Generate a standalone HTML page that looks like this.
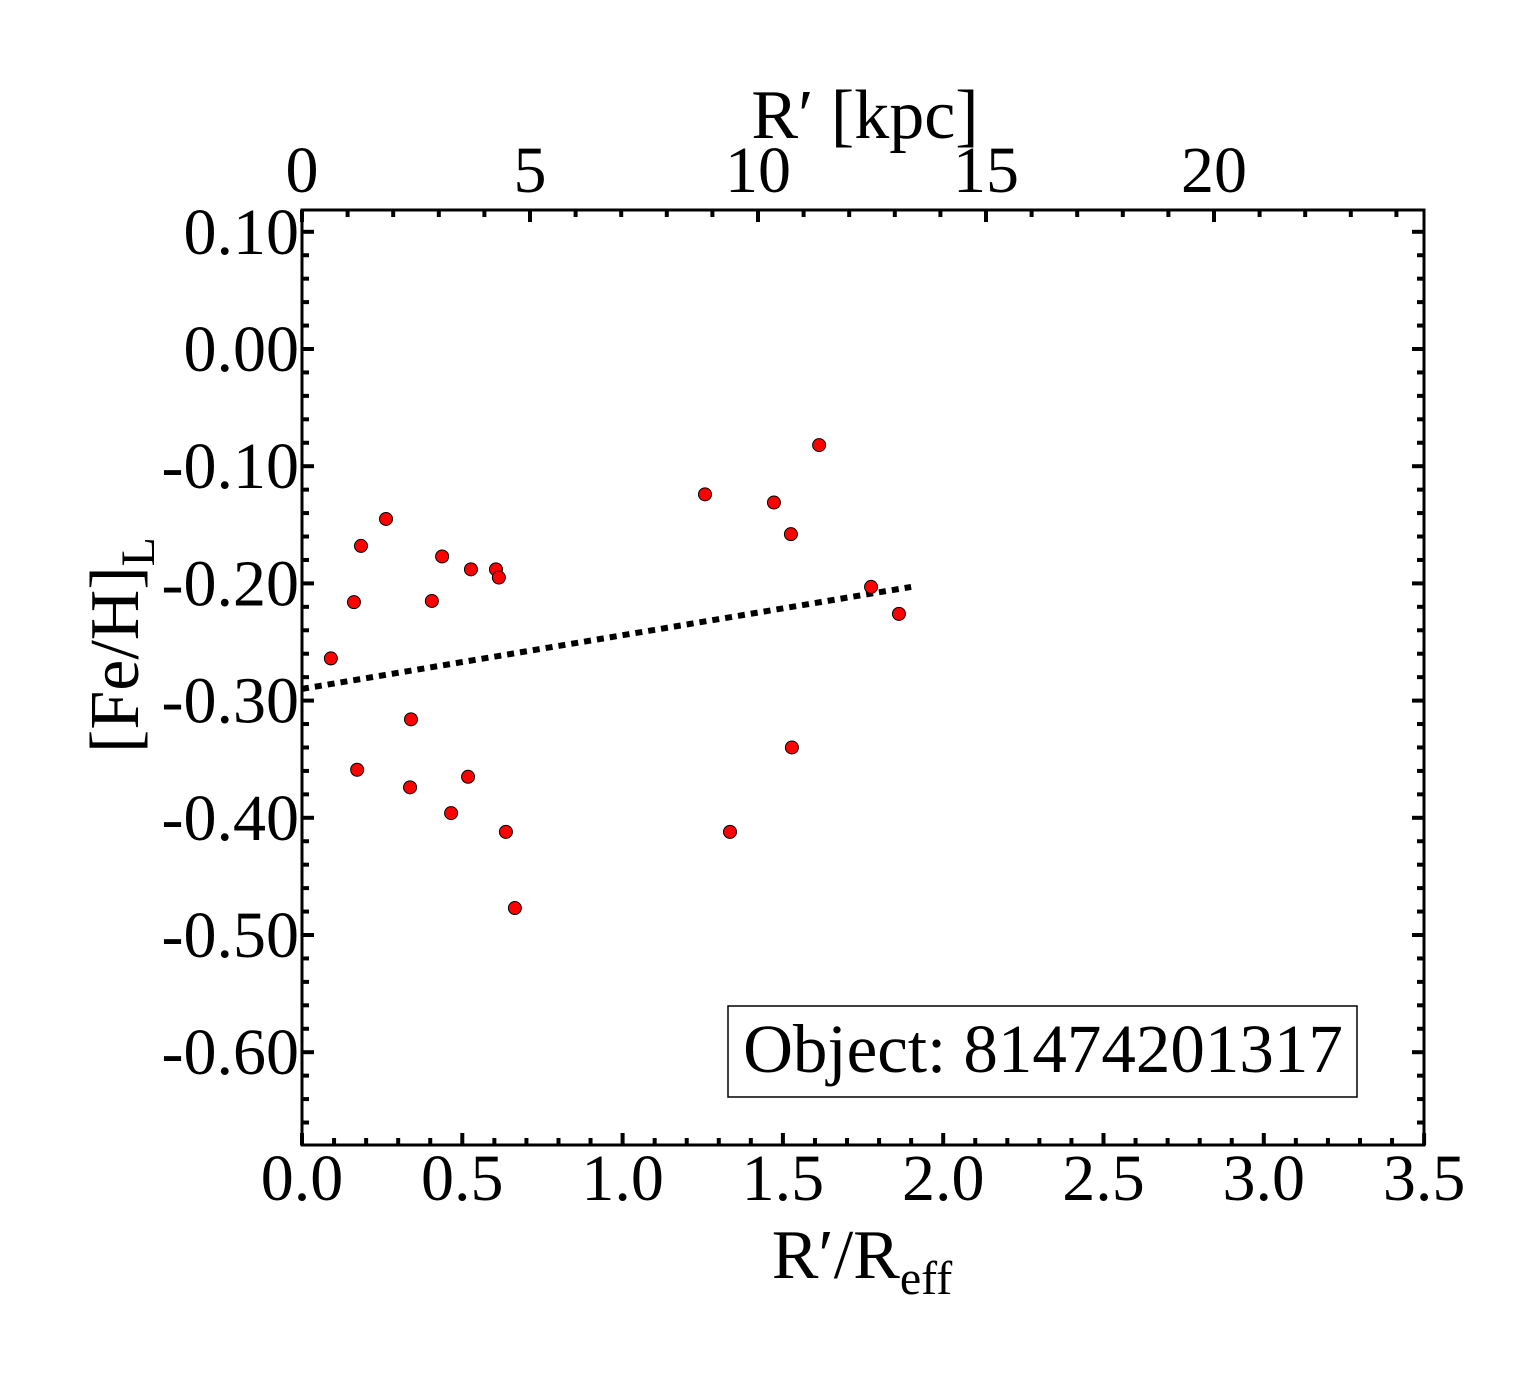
<!DOCTYPE html>
<html><head><meta charset="utf-8"><style>
body{margin:0;background:#fff;}
svg text{font-family:"Liberation Serif",serif;fill:#000;}
</style></head><body>
<svg width="1540" height="1375" xmlns="http://www.w3.org/2000/svg">
<g id="ticks"></g>
<g id="labels"></g>
<rect x="302" y="210" width="1122" height="935" fill="none" stroke="#000" stroke-width="3"/>
<g id="fit"></g>
<g id="pts"></g>
<text x="865" y="138" font-size="70" text-anchor="middle">R′ [kpc]</text>
<text x="862" y="1278" font-size="70" text-anchor="middle">R′/R<tspan font-size="48" dy="16">eff</tspan></text>
<text transform="translate(138,645) rotate(-90)" font-size="70" text-anchor="middle">[Fe/H]<tspan font-size="48" dy="16">L</tspan></text>
<rect x="728" y="1006" width="629" height="91" fill="#fff" stroke="#000" stroke-width="1.5"/>
<text x="1043" y="1072" font-size="69" text-anchor="middle">Object: 81474201317</text>
</svg>
<script>
const xVals=[0.09,0.162,0.184,0.262,0.172,0.34,0.337,0.405,0.437,0.465,0.527,0.518,0.605,0.614,0.636,0.664,1.257,1.335,1.472,1.525,1.528,1.613,1.775,1.862];
const yVals=[-0.264,-0.216,-0.168,-0.145,-0.359,-0.316,-0.374,-0.215,-0.177,-0.396,-0.188,-0.365,-0.188,-0.195,-0.412,-0.477,-0.124,-0.412,-0.131,-0.158,-0.340,-0.082,-0.203,-0.226];
const fitX=[0,1.9];
const fitY=[-0.290,-0.203];
const xTicks=["0.0","0.5","1.0","1.5","2.0","2.5","3.0","3.5"];
const yTicks=["0.10","0.00","-0.10","-0.20","-0.30","-0.40","-0.50","-0.60"];
const kpcTicks=["0","5","10","15","20"];
const NS="http://www.w3.org/2000/svg";
const X=v=>302+v*320.6, Y=v=>349-v*1172, K=v=>302+v*45.6;
function mk(t,a,p){const e=document.createElementNS(NS,t);for(const k in a)e.setAttribute(k,a[k]);p.appendChild(e);return e;}
const tg=document.getElementById('ticks'),lg=document.getElementById('labels');
for(let i=0;i<=35;i++){const x=X(i/10),L=i%5==0?12:7;
 const t1=mk('line',{x1:x,x2:x,y1:1145,y2:1145-L,stroke:'#000','stroke-width':4},tg);
 
 }
for(let i=0;i<=24;i++){const x=K(i),L=i%5==0?12:7;
 const t2=mk('line',{x1:x,x2:x,y1:210,y2:210+L,stroke:'#000','stroke-width':4},tg);
 
 }
for(let i=-33;i<=5;i++){const y=Y(i/50),L=i%5==0?12:7;
 const t3=mk('line',{x1:302,x2:302+L,y1:y,y2:y,stroke:'#000','stroke-width':4},tg);
 
 
 const t4=mk('line',{x1:1424,x2:1424-L,y1:y,y2:y,stroke:'#000','stroke-width':4},tg);
 
 }
xTicks.forEach(s=>{const e=mk('text',{x:X(parseFloat(s)),y:1200,'font-size':66,'text-anchor':'middle'},lg);e.textContent=s;
 
 });
kpcTicks.forEach(s=>{const e=mk('text',{x:K(parseFloat(s)),y:192,'font-size':66,'text-anchor':'middle'},lg);e.textContent=s;
 
 });
yTicks.forEach(s=>{const e=mk('text',{x:299,y:Y(parseFloat(s))+22,'font-size':66,'text-anchor':'end'},lg);e.textContent=s;
 
 });
const fl=mk('line',{x1:X(fitX[0]),y1:Y(fitY[0]),x2:X(fitX[1]),y2:Y(fitY[1]),stroke:'#000','stroke-width':6,'stroke-dasharray':'7 6'},document.getElementById('fit'));


const pg=document.getElementById('pts');
xVals.forEach((v,i)=>{const c=mk('circle',{cx:X(v),cy:Y(yVals[i]),r:6.5,fill:'#ff0000',stroke:'#000','stroke-width':1},pg);
 
 });
</script>
</body></html>
